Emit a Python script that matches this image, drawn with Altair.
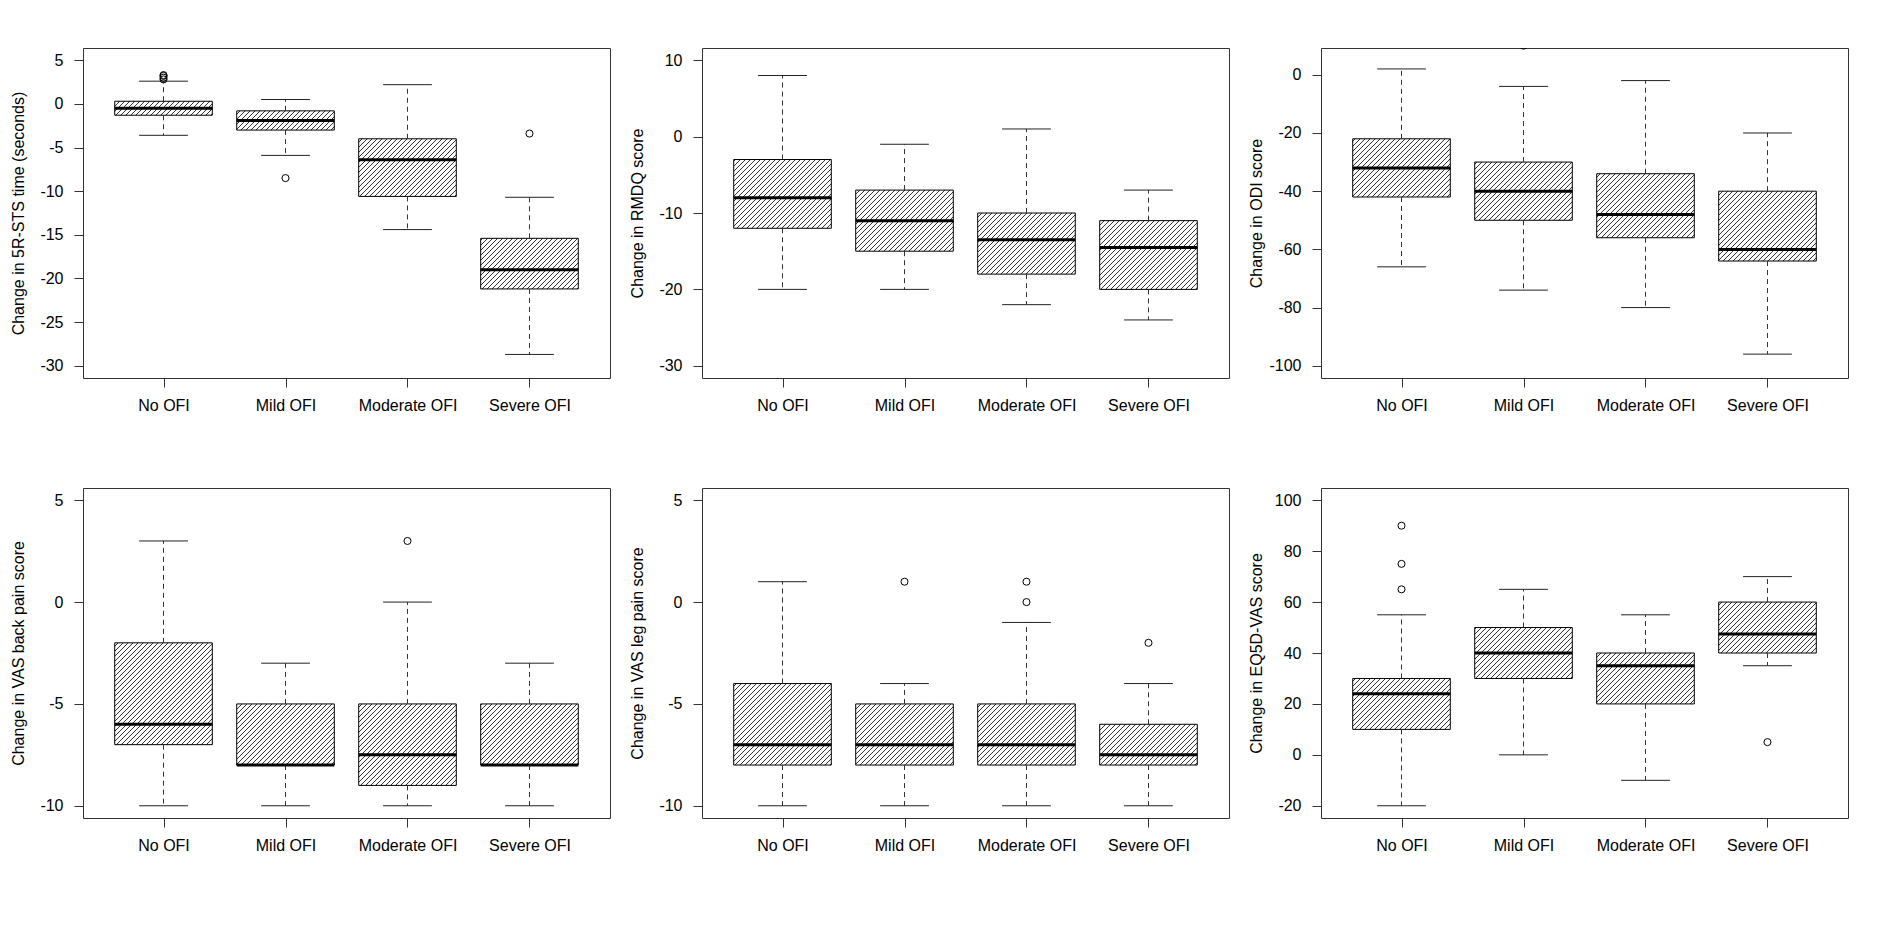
import math
import json
import altair as alt
import pandas as pd

# ---------------- data ----------------
CATEGORIES = ["No OFI", "Mild OFI", "Moderate OFI", "Severe OFI"]

STS_TITLE = "Change in 5R-STS time (seconds)"
STS_YLIM = [-30, 5]
STS_TICKS = [5, 0, -5, -10, -15, -20, -25, -30]
STS_LOW = [-3.6, -5.9, -14.4, -28.7]
STS_Q1 = [-1.3, -3.0, -10.6, -21.2]
STS_MED = [-0.5, -1.9, -6.4, -19.0]
STS_Q3 = [0.3, -0.8, -4.0, -15.4]
STS_HIGH = [2.6, 0.5, 2.2, -10.7]
STS_OUT = [[2.8, 3.0, 3.2, 3.3], [-8.5], [], [-3.4]]

RMDQ_TITLE = "Change in RMDQ score"
RMDQ_YLIM = [-30, 10]
RMDQ_TICKS = [10, 0, -10, -20, -30]
RMDQ_LOW = [-20, -20, -22, -24]
RMDQ_Q1 = [-12, -15, -18, -20]
RMDQ_MED = [-8, -11, -13.5, -14.5]
RMDQ_Q3 = [-3, -7, -10, -11]
RMDQ_HIGH = [8, -1, 1, -7]
RMDQ_OUT = [[], [], [], []]

ODI_TITLE = "Change in ODI score"
ODI_YLIM = [-100, 5]
ODI_TICKS = [0, -20, -40, -60, -80, -100]
ODI_LOW = [-66, -74, -80, -96]
ODI_Q1 = [-42, -50, -56, -64]
ODI_MED = [-32, -40, -48, -60]
ODI_Q3 = [-22, -30, -34, -40]
ODI_HIGH = [2, -4, -2, -20]
ODI_OUT = [[], [10], [], []]

BACK_TITLE = "Change in VAS back pain score"
BACK_YLIM = [-10, 5]
BACK_TICKS = [5, 0, -5, -10]
BACK_LOW = [-10, -10, -10, -10]
BACK_Q1 = [-7, -8, -9, -8]
BACK_MED = [-6, -8, -7.5, -8]
BACK_Q3 = [-2, -5, -5, -5]
BACK_HIGH = [3, -3, 0, -3]
BACK_OUT = [[], [], [3], []]

LEG_TITLE = "Change in VAS leg pain score"
LEG_YLIM = [-10, 5]
LEG_TICKS = [5, 0, -5, -10]
LEG_LOW = [-10, -10, -10, -10]
LEG_Q1 = [-8, -8, -8, -8]
LEG_MED = [-7, -7, -7, -7.5]
LEG_Q3 = [-4, -5, -5, -6]
LEG_HIGH = [1, -4, -1, -4]
LEG_OUT = [[], [1], [1, 0], [-2]]

EQ_TITLE = "Change in EQ5D-VAS score"
EQ_YLIM = [-20, 100]
EQ_TICKS = [100, 80, 60, 40, 20, 0, -20]
EQ_LOW = [-20, 0, -10, 35]
EQ_Q1 = [10, 30, 20, 40]
EQ_MED = [24, 40, 35, 47.5]
EQ_Q3 = [30, 50, 40, 60]
EQ_HIGH = [55, 65, 55, 70]
EQ_OUT = [[65, 75, 90], [], [], [5]]

# ---------------- layout / style ----------------
PW, PH = 527, 330
BOX_HALF = 0.4
CAP_HALF = 0.2
HATCH = 5.0  # horizontal spacing of hatch lines in px
FONT = "Liberation Sans"


def expand(lo, hi):
    r = hi - lo
    return [lo - 0.04 * r, hi + 0.04 * r]


XDOM = expand(0.5, len(CATEGORIES) + 0.5)
LABEL_EXPR = json.dumps(CATEGORIES) + "[datum.value - 1]"


def hatch_df(pos, q1, q3, ydom):
    kx = PW / (XDOM[1] - XDOM[0])
    ky = PH / (ydom[1] - ydom[0])
    rows = []
    for p, a, b in zip(pos, q1, q3):
        u0 = (p - BOX_HALF - XDOM[0]) * kx
        u1 = (p + BOX_HALF - XDOM[0]) * kx
        v0 = (min(a, b) - ydom[0]) * ky
        v1 = (max(a, b) - ydom[0]) * ky
        n0 = math.ceil((v0 - u1) / HATCH)
        n1 = math.floor((v1 - u0) / HATCH)
        for n in range(n0, n1 + 1):
            k = n * HATCH
            ua = max(u0, v0 - k)
            ub = min(u1, v1 - k)
            if ub - ua > 0.3:
                rows.append(dict(hx=XDOM[0] + ua / kx, hy=ydom[0] + (ua + k) / ky,
                                 hx2=XDOM[0] + ub / kx, hy2=ydom[0] + (ub + k) / ky))
    return pd.DataFrame(rows)


def panel(title, ylim, ticks, low, q1, med, q3, high, outs):
    ydom = expand(*ylim)
    pos = list(range(1, len(CATEGORIES) + 1))
    box = pd.DataFrame(dict(cat=CATEGORIES, pos=pos, low=low, q1=q1, med=med, q3=q3, high=high))
    box["xl"] = box["pos"] - BOX_HALF
    box["xr"] = box["pos"] + BOX_HALF
    box["cl"] = box["pos"] - CAP_HALF
    box["cr"] = box["pos"] + CAP_HALF
    out = pd.DataFrame([dict(pos=p, val=v) for p, vs in zip(pos, outs) for v in vs],
                       columns=["pos", "val"])
    hat = hatch_df(pos, q1, q3, ydom)

    xs = alt.Scale(domain=XDOM, nice=False, zero=False)
    ys = alt.Scale(domain=ydom, nice=False, zero=False)
    xaxis = alt.Axis(values=pos, labelExpr=LABEL_EXPR, title=None, grid=False, domain=False,
                     tickSize=9, labelPadding=10, labelFlush=False, labelOverlap=False,
                     labelBound=False)
    yaxis = alt.Axis(values=ticks, labelExpr="'' + datum.value", title=title, grid=False,
                     domain=False, tickSize=9, labelPadding=11, minExtent=52, maxExtent=52,
                     titlePadding=5, labelOverlap=False, labelFlush=False, labelBound=False)

    def X(f):
        return alt.X(f, type="quantitative", scale=xs, axis=xaxis)

    def Y(f):
        return alt.Y(f, type="quantitative", scale=ys, axis=yaxis)

    hatch = alt.Chart(hat).mark_rule(color="#1a1a1a", strokeWidth=0.9).encode(
        x=X("hx"), y=Y("hy"), x2="hx2", y2="hy2")
    rect = alt.Chart(box).mark_rect(fillOpacity=0, stroke="black", strokeWidth=1).encode(
        x=X("xl"), x2="xr", y=Y("q1"), y2="q3")
    wh_up = alt.Chart(box).mark_rule(color="#333333", strokeWidth=1, strokeDash=[5, 4]).encode(
        x=X("pos"), y=Y("q3"), y2="high")
    wh_lo = alt.Chart(box).mark_rule(color="#333333", strokeWidth=1, strokeDash=[5, 4]).encode(
        x=X("pos"), y=Y("q1"), y2="low")
    cap_up = alt.Chart(box).mark_rule(color="#222222", strokeWidth=1).encode(
        x=X("cl"), x2="cr", y=Y("high"))
    cap_lo = alt.Chart(box).mark_rule(color="#222222", strokeWidth=1).encode(
        x=X("cl"), x2="cr", y=Y("low"))
    median = alt.Chart(box).mark_rule(color="black", strokeWidth=3).encode(
        x=X("xl"), x2="xr", y=Y("med"))
    layers = [hatch, rect, wh_up, wh_lo, cap_up, cap_lo, median]
    if len(out):
        pts = alt.Chart(out).mark_point(shape="circle", filled=False, color="black", size=50,
                                        strokeWidth=1, clip=True, opacity=1).encode(
            x=X("pos"), y=Y("val"))
        layers.append(pts)
    return alt.layer(*layers).properties(width=PW, height=PH)


p1 = panel(STS_TITLE, STS_YLIM, STS_TICKS, STS_LOW, STS_Q1, STS_MED, STS_Q3, STS_HIGH, STS_OUT)
p2 = panel(RMDQ_TITLE, RMDQ_YLIM, RMDQ_TICKS, RMDQ_LOW, RMDQ_Q1, RMDQ_MED, RMDQ_Q3, RMDQ_HIGH, RMDQ_OUT)
p3 = panel(ODI_TITLE, ODI_YLIM, ODI_TICKS, ODI_LOW, ODI_Q1, ODI_MED, ODI_Q3, ODI_HIGH, ODI_OUT)
p4 = panel(BACK_TITLE, BACK_YLIM, BACK_TICKS, BACK_LOW, BACK_Q1, BACK_MED, BACK_Q3, BACK_HIGH, BACK_OUT)
p5 = panel(LEG_TITLE, LEG_YLIM, LEG_TICKS, LEG_LOW, LEG_Q1, LEG_MED, LEG_Q3, LEG_HIGH, LEG_OUT)
p6 = panel(EQ_TITLE, EQ_YLIM, EQ_TICKS, EQ_LOW, EQ_Q1, EQ_MED, EQ_Q3, EQ_HIGH, EQ_OUT)

row1 = alt.hconcat(p1, p2, p3, spacing=17)
row2 = alt.hconcat(p4, p5, p6, spacing=17)

chart = (
    alt.vconcat(row1, row2, spacing=73)
    .properties(padding={"left": 1, "top": 39, "right": 0, "bottom": 0}, background="white")
    .configure_view(stroke="#333333", strokeWidth=1)
    .configure_axis(labelFont=FONT, labelFontSize=16, labelColor="black",
                    titleFont=FONT, titleFontSize=16, titleFontWeight="normal",
                    titleColor="black", tickColor="#333333", tickWidth=1)
)

chart.save("out.html", embed_options={"renderer": "svg", "actions": False})
